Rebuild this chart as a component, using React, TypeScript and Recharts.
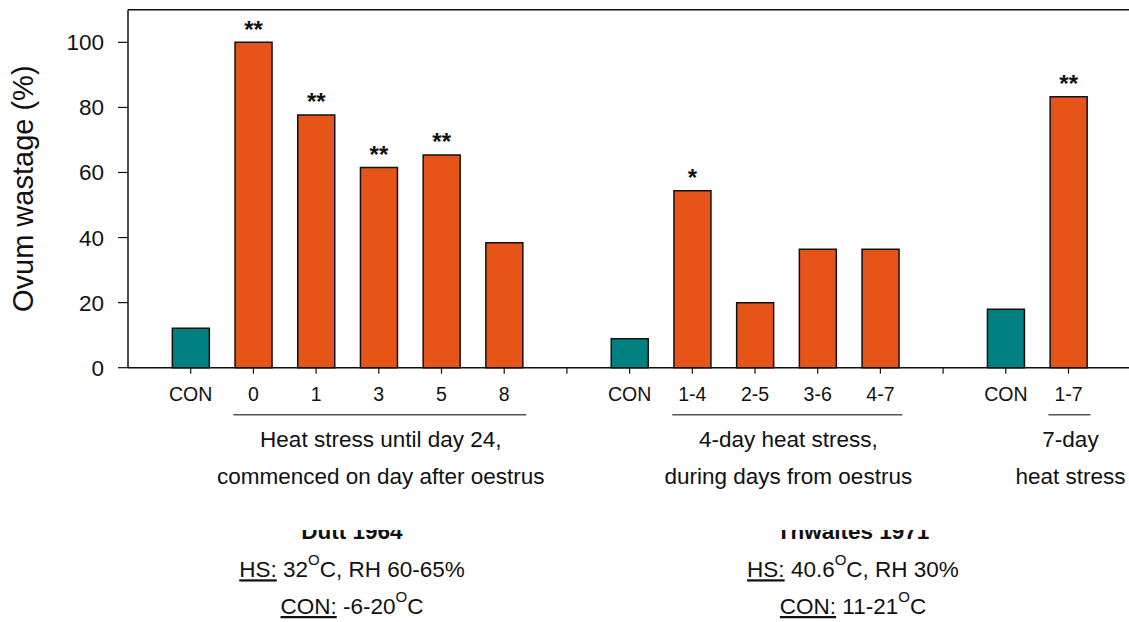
import React from "react";
import { BarChart, Bar, XAxis, YAxis, Cell, LabelList, ReferenceLine, Label } from "recharts";

// ---- data ----
const categories = ["CON", "0", "1", "3", "5", "8", "", "CON", "1-4", "2-5", "3-6", "4-7", "", "CON", "1-7"];
const wastage: (number | null)[] = [12.1, 100, 77.7, 61.5, 65.4, 38.4, null, 8.9, 54.4, 20.0, 36.4, 36.4, null, 18.0, 83.3];
const treatment = ["control", "heat", "heat", "heat", "heat", "heat", "none", "control", "heat", "heat", "heat", "heat", "none", "control", "heat"];
const significance = ["", "**", "**", "**", "**", "", "", "", "*", "", "", "", "", "", "**"];
const yTicks = [0, 20, 40, 60, 80, 100];
const groupFirst = [1, 8, 14];
const groupLast = [5, 11, 14];
const groupLines = [
  ["Heat stress until day 24,", "commenced on day after oestrus"],
  ["4-day heat stress,", "during days from oestrus"],
  ["7-day", "heat stress"],
];
const studyNames = ["Dutt 1964", "Thwaites 1971"];
const studyHS = [["32", "C, RH 60-65%"], ["40.6", "C, RH 30%"]];
const studyCON = [["-6-20", "C"], ["11-21", "C"]];

// ---- layout / style ----
const W = 1129;
const H = 622;
const PLOT_LEFT = 128;
const PLOT_TOP = 9.8;
const PLOT_BOTTOM = 367.7;
const X_AXIS_H = 30;
const PAD_L = 31.35;
const PAD_R = 29.15;
const STEP = (W - PLOT_LEFT - PAD_L - PAD_R) / categories.length;
const COLORS: Record<string, string> = { control: "#008080", heat: "#E75418", none: "#ffffff" };
const FONT = "'Liberation Sans', Arial, Helvetica, sans-serif";
const INK = "#111";
const STUDY_CX = [352, 853];

const rows = categories.map((c, i) => ({
  id: String(i),
  value: wastage[i],
  sig: significance[i],
  kind: treatment[i],
}));

function XTick(props: any) {
  const { x, y, payload } = props;
  const i = Number(payload.value);
  const out: React.ReactNode[] = [
    <text key="lab" x={x} y={y} dy="0.71em" textAnchor="middle" fontSize={19.5} fill={INK}>
      {categories[i]}
    </text>,
  ];
  groupFirst.forEach((f, g) => {
    if (f !== i) return;
    const x0 = x - 20;
    const x1 = x + (groupLast[g] - f) * STEP + 22;
    const cx = (x0 + x1) / 2 + 1;
    out.push(
      <line key={"gl" + g} x1={x0} x2={x1} y1={y + 27.5} y2={y + 27.5} stroke="#555" strokeWidth={1.5} />,
      <text key={"g1" + g} x={cx} y={y + 60} textAnchor="middle" fontSize={22.5} fill={INK}>
        {groupLines[g][0]}
      </text>,
      <text key={"g2" + g} x={cx} y={y + 96.5} textAnchor="middle" fontSize={22.5} fill={INK}>
        {groupLines[g][1]}
      </text>
    );
  });
  return <g>{out}</g>;
}

function SigLabel(props: any) {
  const { x, y, width, value } = props;
  if (!value) return null;
  return (
    <text x={Number(x) + Number(width) / 2} y={Number(y) - 4.5} textAnchor="middle" fontSize={24} fontWeight="bold" fill={INK}>
      {value}
    </text>
  );
}

export default function App() {
  return (
    <div style={{ position: "absolute", left: 0, top: 0, width: W, height: H, background: "#fff", fontFamily: FONT, overflow: "hidden" }}>
      <BarChart
        width={W}
        height={H}
        data={rows}
        margin={{ top: PLOT_TOP, right: 0, bottom: H - PLOT_BOTTOM - X_AXIS_H, left: 0 }}
        barSize={37}
      >
        <ReferenceLine y={110} stroke={INK} strokeWidth={1.5} />
        <XAxis
          dataKey="id"
          type="category"
          interval={0}
          height={X_AXIS_H}
          padding={{ left: PAD_L, right: PAD_R }}
          tickSize={6}
          tickMargin={13.5}
          axisLine={{ stroke: INK, strokeWidth: 1.5 }}
          tickLine={{ stroke: INK, strokeWidth: 1.2 }}
          tick={(p: any) => <XTick {...p} />}
        />
        <YAxis
          domain={[0, 110]}
          ticks={yTicks}
          width={PLOT_LEFT}
          tickSize={10}
          tickMargin={14}
          axisLine={{ stroke: INK, strokeWidth: 1.5 }}
          tickLine={{ stroke: INK, strokeWidth: 1.2 }}
          tick={{ fontSize: 22.5, fill: INK }}
        >
          <Label
            value="Ovum wastage (%)"
            angle={-90}
            position="insideLeft"
            offset={23}
            style={{ textAnchor: "middle", fontSize: 29, fill: INK }}
          />
        </YAxis>
        <Bar dataKey="value" isAnimationActive={false} stroke={INK} strokeWidth={1.5}>
          {rows.map((r) => (
            <Cell key={r.id} fill={COLORS[r.kind]} />
          ))}
          <LabelList dataKey="sig" content={(p: any) => <SigLabel {...p} />} />
        </Bar>
      </BarChart>
      <svg width={W} height={H} style={{ position: "absolute", left: 0, top: 0, pointerEvents: "none" }}>
        <defs>
          <clipPath id="nameClip">
            <rect x={0} y={530} width={W} height={20} />
          </clipPath>
        </defs>
        {studyNames.map((n, k) => (
          <g key={n}>
            <text x={STUDY_CX[k]} y={539} textAnchor="middle" fontSize={22.5} fontWeight="bold" fill={INK} clipPath="url(#nameClip)">
              {n}
            </text>
            <text x={STUDY_CX[k]} y={577.3} textAnchor="middle" fontSize={22.5} fill={INK}>
              <tspan style={{ textDecoration: "underline" }}>HS:</tspan>
              <tspan>{" " + studyHS[k][0]}</tspan>
              <tspan dy={-12.3} fontSize={15}>O</tspan>
              <tspan dy={12.3}>{studyHS[k][1]}</tspan>
            </text>
            <text x={STUDY_CX[k]} y={614} textAnchor="middle" fontSize={22.5} fill={INK}>
              <tspan style={{ textDecoration: "underline" }}>CON:</tspan>
              <tspan>{" " + studyCON[k][0]}</tspan>
              <tspan dy={-12.3} fontSize={15}>O</tspan>
              <tspan dy={12.3}>{studyCON[k][1]}</tspan>
            </text>
          </g>
        ))}
      </svg>
    </div>
  );
}
